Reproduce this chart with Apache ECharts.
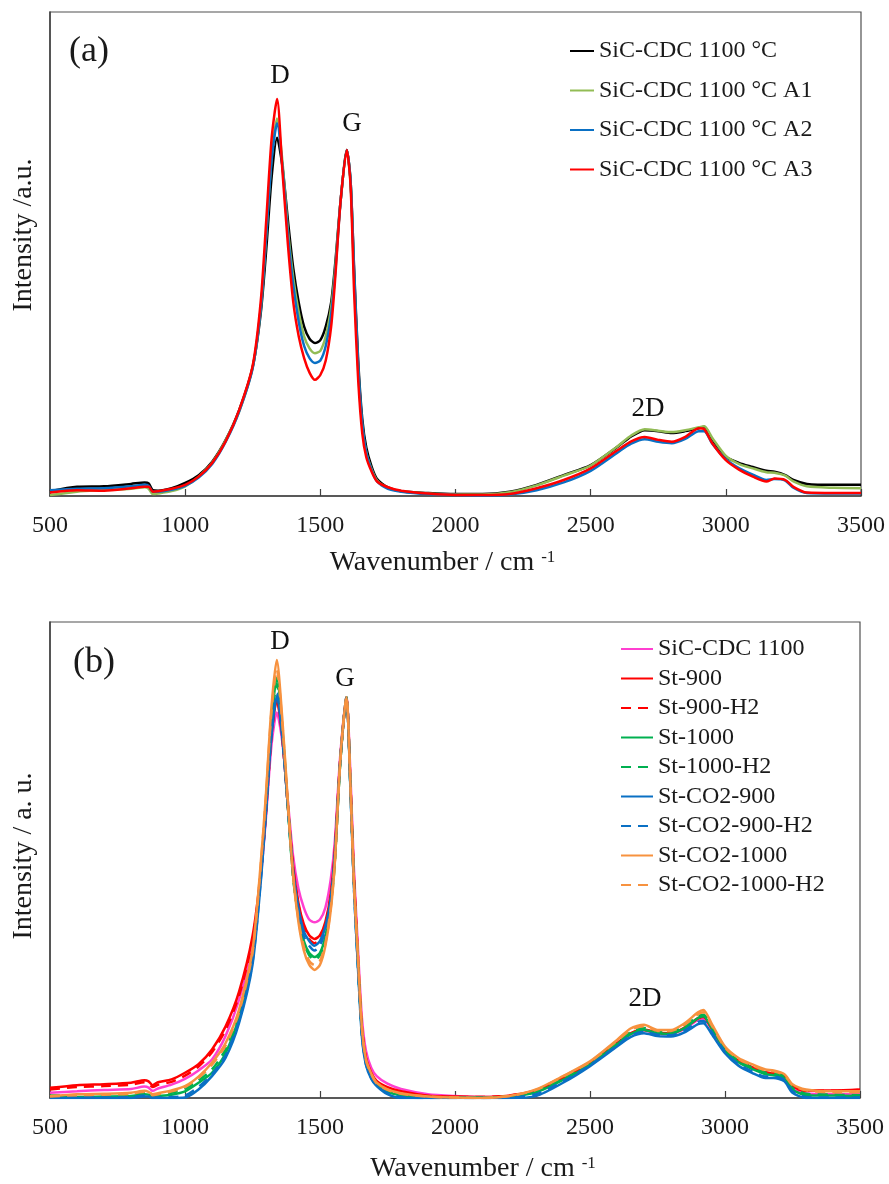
<!DOCTYPE html>
<html>
<head>
<meta charset="utf-8">
<script src="https://cdn.jsdelivr.net/npm/echarts@6/dist/echarts.min.js"></script>
<style>
html,body{margin:0;padding:0;background:#fff;}
#chart{width:889px;height:1184px;}
</style>
</head>
<body>
<div id="chart"></div>
<script>
// ---- shared wavenumber grid (cm-1) ----
const WAVENUMBERS = [500, 600, 700, 800, 850, 865, 880, 900, 950, 1000,
  1050, 1100, 1150, 1200, 1250, 1280, 1300, 1320, 1340, 1360,
  1380, 1400, 1420, 1440, 1460, 1480, 1500, 1520, 1540, 1555,
  1575, 1598, 1612, 1625, 1640, 1655, 1670, 1690, 1710, 1750,
  1800, 1900, 2000, 2100, 2200, 2300, 2400, 2500, 2600, 2650,
  2700, 2750, 2800, 2850, 2900, 2920, 2950, 3000, 3050, 3100,
  3150, 3180, 3220, 3250, 3300, 3400, 3500];

const X_TICKS = [500, 1000, 1500, 2000, 2500, 3000, 3500];

// ---- panel (a) ----
const A_NAMES = ['SiC-CDC 1100 °C', 'SiC-CDC 1100 °C A1', 'SiC-CDC 1100 °C A2', 'SiC-CDC 1100 °C A3'];
const A_BASE = [1.0, 1.9, 2.0, 2.5, 2.8, 2.6, 1.2, 1.1, 1.6, 2.7,
  4.3, 7.1, 11.6, 17.8, 26.7, 38, 51, 66, 74, 68,
  57, 47, 40, 35, 32.5, 31.6, 32.2, 35, 40, 48,
  61, 71.5, 65, 47, 28, 16, 10, 6, 3.5, 1.8,
  1.0, 0.6, 0.4, 0.4, 0.9, 2.3, 4.3, 6.4, 10.2, 12.3,
  13.6, 13.4, 13, 13.4, 14, 14.3, 11.6, 8.1, 6.8, 6,
  5.2, 5.0, 4.3, 3.3, 2.5, 2.3, 2.3];
const A_A1 = [0.2, 0.9, 1.2, 1.5, 1.8, 1.5, 0.4, 0.5, 1.0, 2.0,
  4.0, 6.9, 11.5, 17.5, 26.7, 39, 54, 70, 78, 69,
  55, 45, 38, 33, 30.5, 29.5, 30, 33, 39, 47,
  61, 71.5, 64.5, 45, 26, 14.5, 9, 5.5, 3.2, 1.7,
  1.0, 0.5, 0.3, 0.3, 0.8, 2.2, 4.2, 6.3, 10.3, 12.5,
  13.8, 13.5, 13.2, 13.6, 14.2, 14.4, 12, 8.3, 6.6, 5.7,
  4.9, 4.8, 4.2, 3.0, 2.0, 1.7, 1.6];
const A_A2 = [1.2, 1.5, 1.6, 2.0, 2.3, 2.1, 0.9, 0.9, 1.3, 2.1,
  3.8, 6.6, 11.2, 17.5, 26.5, 39, 54, 69.5, 77, 68,
  54, 43.5, 36, 31, 28.5, 27.5, 28, 31, 37.5, 46,
  61, 71.5, 65, 46, 27, 15, 9, 5.3, 3.0, 1.5,
  0.9, 0.4, 0.2, 0.1, 0.3, 1.2, 2.8, 5.2, 9.0, 10.8,
  11.7, 11.2, 10.9, 11.8, 13.4, 13.4, 10.8, 7.6, 5.7, 4.4,
  3.3, 3.5, 3.2, 1.7, 0.6, 0.5, 0.5];
const A_A3 = [0.7, 1.2, 1.1, 1.6, 1.9, 1.9, 0.9, 1.0, 1.5, 2.3,
  4.0, 6.8, 11.3, 17.8, 27, 40.5, 57, 74, 82, 67,
  52, 40, 33, 28.5, 25.5, 24, 25, 28, 35, 45,
  61, 71.5, 64, 42, 24, 13, 8, 5, 3, 1.8,
  1.1, 0.5, 0.2, 0.2, 0.4, 1.6, 3.3, 5.7, 9.5, 11.3,
  12.2, 11.6, 11.2, 12.2, 14, 13.8, 10.9, 7.4, 5.4, 4,
  3, 3.6, 3.3, 1.9, 0.7, 0.6, 0.6];
const A_COLORS = ['#000000', '#92BC55', '#0A70C4', '#FF0000'];

// ---- panel (b) ----
const B_NAMES = ['SiC-CDC 1100', 'St-900', 'St-900-H2', 'St-1000', 'St-1000-H2',
  'St-CO2-900', 'St-CO2-900-H2', 'St-CO2-1000', 'St-CO2-1000-H2'];
const B_CDC = [1.1, 1.4, 1.7, 1.9, 2.4, 2.2, 1.5, 2.0, 2.8, 4.0,
  5.8, 8.1, 13, 20.6, 32, 46, 59, 74, 81, 75,
  63, 51, 44, 40, 37.5, 36.9, 37.5, 40, 46, 54,
  72, 84.2, 69, 49, 32, 17, 10, 6.3, 4.6, 3.0,
  1.9, 0.8, 0.4, 0.2, 0.4, 1.4, 4.0, 7.0, 11.2, 13.4,
  14.2, 13.5, 13.4, 14.5, 16.4, 16.6, 14.5, 10.0, 7.6, 6.3,
  5.2, 5.0, 4.4, 2.2, 1.0, 0.8, 0.8];
const B_ST900 = [2.15, 2.7, 2.9, 3.2, 3.75, 3.5, 2.7, 3.3, 3.9, 5.3,
  7.1, 10.2, 15, 22.3, 34, 47, 60, 76, 83.7, 76,
  62, 49, 41, 36.5, 34.2, 33.4, 34.2, 37, 43, 52,
  71, 84.2, 67, 47, 30, 15, 8.5, 5.3, 3.6, 2.3,
  1.4, 0.5, 0.3, 0.2, 0.5, 1.6, 4.2, 7.2, 11.5, 13.6,
  14.4, 13.7, 13.6, 14.8, 16.8, 17, 14.8, 10.2, 7.8, 6.5,
  5.4, 5.2, 4.6, 2.5, 1.6, 1.6, 1.8];
const B_ST900H2 = [1.8, 2.3, 2.5, 2.8, 3.3, 3.1, 2.3, 2.8, 3.4, 4.7,
  6.6, 9.6, 14.3, 21.5, 33, 46.5, 60, 76, 84, 76,
  62, 48.5, 40.5, 35.8, 33.4, 32.5, 33.4, 36.3, 42.5, 51.5,
  71, 84.2, 67, 47, 30, 15, 8.3, 5.1, 3.4, 2.1,
  1.2, 0.4, 0.2, 0.2, 0.5, 1.6, 4.1, 7.1, 11.4, 13.5,
  14.3, 13.6, 13.5, 14.7, 16.7, 16.9, 14.7, 10.1, 7.7, 6.4,
  5.3, 5.1, 4.5, 2.4, 1.5, 1.5, 1.7];
const B_ST1000 = [0.2, 0.2, 0.3, 0.4, 0.8, 0.7, 0.3, 0.4, 0.7, 1.4,
  3.2, 5.3, 9.4, 17, 29.5, 47, 62, 79, 88.3, 78,
  62, 47, 38.5, 33, 30.5, 29.6, 30.5, 34, 41, 50,
  70.5, 84.2, 66.5, 46, 29, 14, 7.6, 4.5, 2.8, 1.3,
  0.6, 0.2, 0.1, 0.1, 0.3, 1.2, 3.8, 7.0, 11.3, 13.4,
  14.3, 13.6, 13.5, 14.7, 16.8, 17.2, 14.8, 10.0, 7.5, 6.1,
  5.0, 4.8, 4.2, 1.8, 0.6, 0.5, 0.4];
const B_ST1000H2 = [0.5, 0.6, 0.7, 0.8, 1.2, 1.0, 0.5, 0.7, 1.1, 1.9,
  3.7, 6.0, 10.2, 17.5, 30, 47, 62, 78.5, 87, 77.5,
  62, 46.5, 38, 32.5, 30, 29, 30, 33.5, 40.5, 49.5,
  70.5, 84.2, 66.5, 46, 29, 14, 7.8, 4.7, 2.9, 1.4,
  0.7, 0.2, 0.1, 0.1, 0.3, 1.4, 4.0, 7.2, 11.6, 13.8,
  14.7, 13.9, 13.9, 15.1, 17.2, 17.5, 15.1, 10.3, 7.8, 6.4,
  5.3, 5.1, 4.5, 2.1, 0.9, 0.7, 0.6];
const B_CO2_900 = [0, 0, 0, 0, 0.3, 0.3, 0, 0, 0, 0.1,
  1.8, 4.6, 8.4, 15.7, 28, 45, 60, 76, 84.4, 76,
  62, 48, 40, 35, 33, 32, 33, 36, 42, 51,
  71, 84.2, 66, 45, 28, 13, 7, 4, 2.5, 0.8,
  0, 0, 0, 0, 0, 0.4, 3.2, 6.7, 10.8, 12.8,
  13.6, 13.0, 12.9, 13.8, 15.5, 15.7, 13.5, 9.4, 6.8, 5.3,
  4.2, 4.2, 3.5, 1.1, 0, 0, 0];
const B_CO2_900H2 = [0.1, 0.1, 0.1, 0.2, 0.5, 0.5, 0.1, 0.1, 0.2, 0.5,
  2.3, 5.0, 8.9, 16.2, 28.5, 45.5, 60.5, 76.5, 85, 76.5,
  62, 47.5, 39.2, 34, 32, 31, 32, 35.3, 41.5, 50.5,
  71, 84.2, 66, 45, 28, 13.2, 7.2, 4.2, 2.6, 1.0,
  0.2, 0, 0, 0, 0.1, 0.8, 3.5, 6.9, 11.0, 13.1,
  13.9, 13.3, 13.2, 14.2, 16.0, 16.2, 13.9, 9.7, 7.1, 5.6,
  4.5, 4.5, 3.8, 1.4, 0.2, 0.1, 0.1];
const B_CO2_1000 = [0.4, 0.8, 0.9, 1.1, 1.5, 1.3, 0.8, 1.0, 1.6, 2.5,
  4.5, 7.4, 11.5, 18.5, 31, 49, 64, 82, 92, 80,
  63, 47, 37, 31, 28, 26.9, 28, 32, 39.5, 49.5,
  71, 84.2, 67, 46, 30, 15, 8.2, 5.1, 3.2, 1.8,
  1.0, 0.3, 0.1, 0, 0.4, 1.8, 4.6, 7.7, 12.2, 14.6,
  15.4, 14.3, 14.3, 15.7, 18.0, 18.5, 15.7, 10.8, 8.4, 7.1,
  6.0, 5.8, 5.0, 2.9, 1.8, 1.4, 1.4];
const B_CO2_1000H2 = [0.3, 0.6, 0.7, 0.9, 1.3, 1.1, 0.6, 0.8, 1.4, 2.3,
  4.2, 7.0, 11.0, 18.0, 30.5, 48.5, 63.5, 81, 90, 79,
  62.5, 47, 37.5, 31.8, 28.8, 27.9, 28.8, 32.5, 40, 49.5,
  70.5, 84.2, 67, 46, 30, 14.8, 8, 5, 3.1, 1.7,
  0.9, 0.3, 0.1, 0, 0.4, 1.7, 4.5, 7.6, 12.0, 14.3,
  15.1, 14.1, 14.1, 15.4, 17.6, 18.0, 15.3, 10.6, 8.2, 6.9,
  5.8, 5.6, 4.8, 2.7, 1.6, 1.2, 1.2];
const B_COLORS = ['#FF3FD0', '#FF0000', '#FF0000', '#00B050', '#00B050',
  '#0A70C4', '#0A70C4', '#F7923F', '#F7923F'];
const B_DASHED = [false, false, true, false, true, false, true, false, true];

// ---- peak annotations (data space: wavenumber, intensity) ----
const A_PEAK_LABELS = ['D', 'G', '2D'];
const A_PEAK_WN = [1351, 1617, 2712];
const A_PEAK_I = [86.8, 76.9, 18.0];
const B_PEAK_LABELS = ['D', 'G', '2D'];
const B_PEAK_WN = [1352, 1593, 2704];
const B_PEAK_I = [95.8, 88.1, 20.8];

const FONT = '"Liberation Serif", "Times New Roman", Times, serif';
const TXT = '#1a1a1a';

function pairs(vals) { return WAVENUMBERS.map((w, i) => [w, vals[i]]); }

const A_VALUES = [A_BASE, A_A1, A_A2, A_A3];
const B_VALUES = [B_CDC, B_ST900, B_ST900H2, B_ST1000, B_ST1000H2,
  B_CO2_900, B_CO2_900H2, B_CO2_1000, B_CO2_1000H2];

function xAxisFor(gridIndex, padding, gap) {
  return {
    type: 'value', gridIndex: gridIndex, min: X_TICKS[0], max: X_TICKS[X_TICKS.length - 1],
    interval: 500,
    axisLine: { show: true, lineStyle: { color: '#404040', width: 1.5 } },
    axisTick: { show: true, inside: true, length: 7, lineStyle: { color: '#404040', width: 1.2 } },
    axisLabel: { margin: 18, fontSize: 24, fontFamily: FONT, color: TXT, formatter: v => String(v) },
    splitLine: { show: false },
    name: 'Wavenumber / cm {sup|-1}',
    nameLocation: 'middle', nameGap: gap,
    nameTextStyle: {
      fontSize: 28, fontFamily: FONT, color: TXT, padding: padding,
      rich: { sup: { fontSize: 17, fontFamily: FONT, color: TXT, verticalAlign: 'top' } }
    }
  };
}
function yAxisFor(gridIndex, name, padding) {
  return {
    type: 'value', gridIndex: gridIndex, min: 0, max: 100,
    axisLine: { show: true, lineStyle: { color: '#404040', width: 1.5 } },
    axisTick: { show: false }, axisLabel: { show: false }, splitLine: { show: false },
    name: name, nameLocation: 'middle', nameGap: 12,
    nameTextStyle: { fontSize: 28, fontFamily: FONT, color: TXT, padding: padding }
  };
}

const series = [];
A_NAMES.forEach((n, i) => {
  series.push({
    name: n, type: 'line', xAxisIndex: 0, yAxisIndex: 0,
    data: pairs(A_VALUES[i]), showSymbol: false, symbol: 'none', smooth: 0.25,
    lineStyle: { color: A_COLORS[i], width: 2.5 }, itemStyle: { color: A_COLORS[i] },
    animation: false, z: 2 + i
  });
});
B_NAMES.forEach((n, i) => {
  series.push({
    name: n, type: 'line', xAxisIndex: 1, yAxisIndex: 1,
    data: pairs(B_VALUES[i]), showSymbol: false, symbol: 'none', smooth: 0.25,
    lineStyle: { color: B_COLORS[i], width: 2.5, type: B_DASHED[i] ? [10, 7] : 'solid' },
    itemStyle: { color: B_COLORS[i] },
    animation: false, z: 2 + i
  });
});
function annot(xi, labels, wn, inten) {
  return {
    type: 'scatter', xAxisIndex: xi, yAxisIndex: xi, silent: true, animation: false,
    symbolSize: 1, itemStyle: { color: 'rgba(255,255,255,0)' }, z: 20,
    label: { show: true, position: 'inside', formatter: '{b}', fontSize: 27, fontFamily: FONT,
      color: '#111111', textBorderWidth: 0, opacity: 1 },
    data: labels.map((t, i) => ({ name: t, value: [wn[i], inten[i]] }))
  };
}
series.push(annot(0, A_PEAK_LABELS, A_PEAK_WN, A_PEAK_I));
series.push(annot(1, B_PEAK_LABELS, B_PEAK_WN, B_PEAK_I));

const option = {
  backgroundColor: '#ffffff',
  animation: false,
  title: [
    { text: '(a)', left: 64, top: 29, textStyle: { fontSize: 36, fontWeight: 'normal', fontFamily: FONT, color: TXT } },
    { text: '(b)', left: 68, top: 640, textStyle: { fontSize: 36, fontWeight: 'normal', fontFamily: FONT, color: TXT } }
  ],
  grid: [
    { left: 50, top: 12, width: 811, height: 484, show: true, borderColor: '#505050', borderWidth: 1.2, backgroundColor: 'transparent' },
    { left: 50, top: 622, width: 810, height: 480, show: true, borderColor: '#505050', borderWidth: 1.2, backgroundColor: 'transparent' }
  ],
  legend: [
    {
      data: A_NAMES, orient: 'vertical', left: 569, top: 39, padding: 0,
      itemWidth: 24, itemHeight: 12, itemGap: 15.5,
      itemStyle: { opacity: 0 },
      textStyle: { fontSize: 24, fontFamily: FONT, color: TXT, lineHeight: 24 },
      selectedMode: false
    },
    {
      data: B_NAMES, orient: 'vertical', left: 620, top: 637, padding: 0,
      itemWidth: 32, itemHeight: 12, itemGap: 5.5,
      itemStyle: { opacity: 0 },
      textStyle: { fontSize: 24, fontFamily: FONT, color: TXT, lineHeight: 24 },
      selectedMode: false
    }
  ],
  xAxis: [xAxisFor(0, [0, 26, 0, 0], 53), xAxisFor(1, [0, 0, 0, 56], 57)],
  yAxis: [yAxisFor(0, 'Intensity /a.u.', [0, 0, 0, 38]), yAxisFor(1, 'Intensity / a. u.', [0, 0, 0, 8])],
  series: series
};

const chart = echarts.init(document.getElementById('chart'), null, { renderer: 'canvas' });
chart.setOption(option);
</script>
</body>
</html>
